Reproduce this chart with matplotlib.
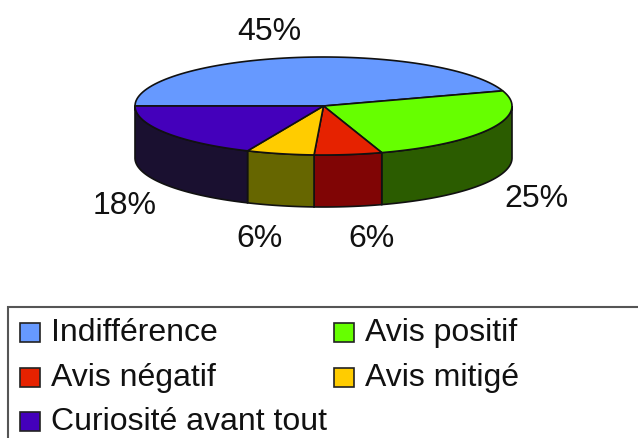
import numpy as np
import matplotlib
matplotlib.use('Agg')
import matplotlib.pyplot as plt
from matplotlib.patches import Polygon, Rectangle

plt.rcParams['font.family'] = ['Liberation Sans', 'DejaVu Sans']

categories = ['Indifférence', 'Avis positif', 'Avis négatif', 'Avis mitigé', 'Curiosité avant tout']
values = [45, 25, 5.8, 5.8, 18.4]
top_colors = ['#6699ff', '#66ff00', '#e62200', '#ffcc00', '#4400bb']
side_colors = ['#334d80', '#2b5c00', '#800505', '#666600', '#1a1030']
pct_labels = ['45%', '25%', '6%', '6%', '18%']
label_x = [269, 536, 371, 260, 125]
label_y = [32, 199, 239, 239, 206]

# pie geometry, in pixels
cx, cy = 323.5, 106
rx, ry = 188.5, 49
depth = 52
start = 180

fig = plt.figure(figsize=(6.38, 4.38), dpi=100)
ax = fig.add_axes([0, 0, 1, 1])
ax.set_xlim(0, 638)
ax.set_ylim(438, 0)
ax.axis('off')


def arc(a, b, dy=0):
    t = np.radians(np.linspace(a, b, 80))
    return np.column_stack([cx + rx * np.cos(t), cy - ry * np.sin(t) + dy])


edges = start - np.cumsum([0] + values) * 3.6

# walls first, only the part below the horizontal is visible
for i in range(len(values)):
    a = min(edges[i], 0)
    b = edges[i + 1]
    if b >= 0:
        continue
    pts = np.vstack([arc(a, b), arc(b, a, depth)])
    ax.add_patch(Polygon(pts, closed=True, fc=side_colors[i], ec='#111111', lw=1.2))

# top face
for i in range(len(values)):
    pts = np.vstack([[cx, cy], arc(edges[i], edges[i + 1])])
    ax.add_patch(Polygon(pts, closed=True, fc=top_colors[i], ec='#111111', lw=1.2))

for i in range(len(values)):
    ax.text(label_x[i], label_y[i], pct_labels[i], fontsize=23, ha='center', va='center', color='#111111')

# legend box runs off the right and bottom of the picture
ax.add_patch(Rectangle((8, 307), 700, 200, fc='white', ec='#555555', lw=1.5))
legend_x = [20, 334, 20, 334, 20]
legend_y = [332, 332, 377, 377, 421]
for i, name in enumerate(categories):
    ax.add_patch(Rectangle((legend_x[i], legend_y[i] - 9.5), 20, 19, fc=top_colors[i], ec='#222222', lw=1.2))
    ax.text(legend_x[i] + 31, legend_y[i] + 1, name, fontsize=23, ha='left', va='center', color='#111111')

fig.savefig('out.png', dpi=100)
